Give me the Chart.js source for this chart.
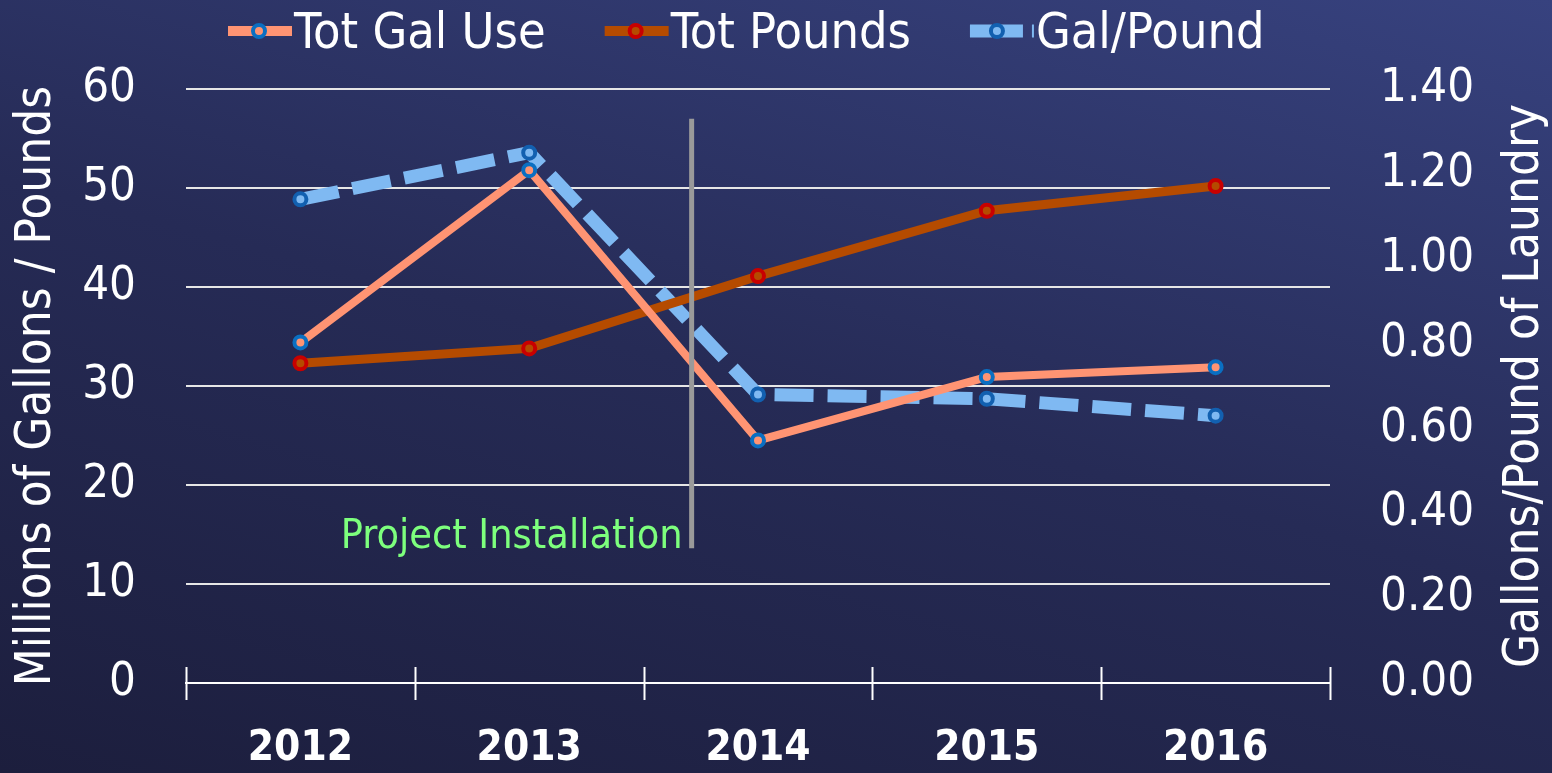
<!DOCTYPE html>
<html>
<head>
<meta charset="utf-8">
<script src="https://cdn.jsdelivr.net/npm/chart.js@4.4.1/dist/chart.umd.min.js"></script>
<style>
  html, body { margin: 0; padding: 0; }
  body {
    width: 1552px; height: 773px; overflow: hidden;
    background: linear-gradient(15deg, #1c1e3d 0%, #262b56 50%, #37427f 100%);
  }
</style>
</head>
<body>
<canvas id="chart" width="1552" height="773"></canvas>
<script>
const years = ['2012', '2013', '2014', '2015', '2016'];
const totGalUse = [34.4, 51.8, 24.5, 30.9, 31.9];
const totPounds = [32.3, 33.8, 41.1, 47.7, 50.2];
const galPerPound = [1.14, 1.25, 0.68, 0.67, 0.63];

const leftTicks = [0, 10, 20, 30, 40, 50, 60];
const rightTicks = [0, 0.2, 0.4, 0.6, 0.8, 1.0, 1.2, 1.4];

// where the install marker sits: category position, top/bottom in left-axis units
const installAt = 1.71;
const installTop = 57.0;
const installBottom = 13.6;
const installLabel = 'Project Installation';

const FONT = "'DejaVu Sans Condensed', 'Liberation Sans', sans-serif";

// legend drawn by hand so it can sit tight against the top edge
function drawLegend(chart) {
    const ctx = chart.ctx;
    ctx.save();
    ctx.font = '50px ' + FONT;
    ctx.textBaseline = 'alphabetic';
    ctx.textAlign = 'left';
    let x = 228;
    const cy = 31;
    chart.data.datasets.forEach(ds => {
        const dashed = !!ds.borderDash;
        ctx.strokeStyle = ds.borderColor;
        ctx.lineWidth = dashed ? 13 : 10;
        ctx.setLineDash(dashed ? [22, 9] : []);
        ctx.beginPath(); ctx.moveTo(x, cy); ctx.lineTo(x + 64, cy); ctx.stroke();
        ctx.setLineDash([]);
        ctx.beginPath(); ctx.arc(x + (dashed ? 27 : 31), cy, 6, 0, Math.PI * 2);
        ctx.fillStyle = ds.pointBackgroundColor; ctx.fill();
        ctx.lineWidth = 4; ctx.strokeStyle = ds.pointBorderColor; ctx.stroke();
        ctx.fillStyle = '#ffffff';
        ctx.fillText(ds.label, x + 66, 48);
        x += 66 + ctx.measureText(ds.label).width + 59;
    });
    ctx.restore();
}

const extras = {
    id: 'extras',
    afterDraw(chart) {
        const { ctx, chartArea } = chart;
        const x = chart.scales.x, y = chart.scales.y;
        ctx.save();
        // category tick marks crossing the axis
        ctx.strokeStyle = '#ffffff';
        ctx.lineWidth = 2;
        for (let i = 0; i <= years.length; i++) {
            const px = Math.round(x.getPixelForValue(i - 0.5)) + 0.5;
            ctx.beginPath();
            ctx.moveTo(px, chartArea.bottom - 16);
            ctx.lineTo(px, chartArea.bottom + 17);
            ctx.stroke();
        }
        // installation marker
        const lx = x.getPixelForValue(installAt);
        ctx.strokeStyle = '#9a9a9a';
        ctx.lineWidth = 5;
        ctx.beginPath();
        ctx.moveTo(lx, y.getPixelForValue(installTop));
        ctx.lineTo(lx, y.getPixelForValue(installBottom));
        ctx.stroke();
        ctx.fillStyle = '#7dff7d';
        ctx.font = '41px ' + FONT;
        ctx.textAlign = 'right';
        ctx.textBaseline = 'middle';
        ctx.fillText(installLabel, lx - 9, y.getPixelForValue(installBottom) - 11);
        // right axis title, reading bottom to top
        ctx.fillStyle = '#ffffff';
        ctx.font = '49px ' + FONT;
        ctx.textAlign = 'center';
        ctx.translate(1525, (chartArea.top + chartArea.bottom) / 2);
        ctx.rotate(-Math.PI / 2);
        ctx.fillText('Gallons/Pound of Laundry', 0, 0);
        ctx.restore();
        drawLegend(chart);
    }
};

new Chart(document.getElementById('chart'), {
    type: 'line',
    data: {
        labels: years,
        datasets: [
            {
                label: 'Tot Gal Use', data: totGalUse, yAxisID: 'y',
                borderColor: '#ff9473', borderWidth: 8,
                pointBackgroundColor: '#ff9473', pointBorderColor: '#0a6fc2',
                pointRadius: 6, pointBorderWidth: 4, tension: 0,
            },
            {
                label: 'Tot Pounds', data: totPounds, yAxisID: 'y',
                borderColor: '#b54b00', borderWidth: 9,
                pointBackgroundColor: '#b54b00', pointBorderColor: '#c80000',
                pointRadius: 6, pointBorderWidth: 4, tension: 0,
            },
            {
                label: 'Gal/Pound', data: galPerPound, yAxisID: 'y1',
                borderColor: '#7fb9f2', borderWidth: 13, borderDash: [39, 14],
                pointBackgroundColor: '#7fb9f2', pointBorderColor: '#1260b0',
                pointRadius: 6, pointBorderWidth: 4, tension: 0,
            },
        ],
    },
    options: {
        responsive: false,
        animation: false,
        layout: { padding: { top: 89, bottom: 0, left: 0, right: 78 } },
        plugins: {
            legend: { display: false },
            tooltip: { enabled: false },
        },
        scales: {
            x: {
                offset: true,
                grid: { display: false },
                border: { display: true, color: '#ffffff', width: 2 },
                ticks: { color: '#ffffff', font: { family: FONT, size: 42, weight: 'bold' }, padding: 33 },
                afterFit(s) { s.height = 90; },
            },
            y: {
                position: 'left', min: 0, max: 60,
                afterBuildTicks(s) { s.ticks = leftTicks.map(v => ({ value: v })); },
                grid: { color: '#e6e6e6', lineWidth: 2, drawTicks: false },
                border: { display: false },
                ticks: { color: '#ffffff', font: { family: FONT, size: 47 }, padding: 50 },
                title: { display: true, text: 'Millions of Gallons / Pounds', color: '#ffffff', font: { family: FONT, size: 49 }, padding: { top: 8, bottom: 0 } },
                afterFit(s) { s.width = 186; },
            },
            y1: {
                position: 'right', min: 0, max: 1.4,
                afterBuildTicks(s) { s.ticks = rightTicks.map(v => ({ value: v })); },
                grid: { drawOnChartArea: false, drawTicks: false },
                border: { display: false },
                ticks: { color: '#ffffff', font: { family: FONT, size: 47 }, padding: 50, callback: v => Number(v).toFixed(2) },
                afterFit(s) { s.width = 144; },
            },
        },
    },
    plugins: [extras],
});
</script>
</body>
</html>
